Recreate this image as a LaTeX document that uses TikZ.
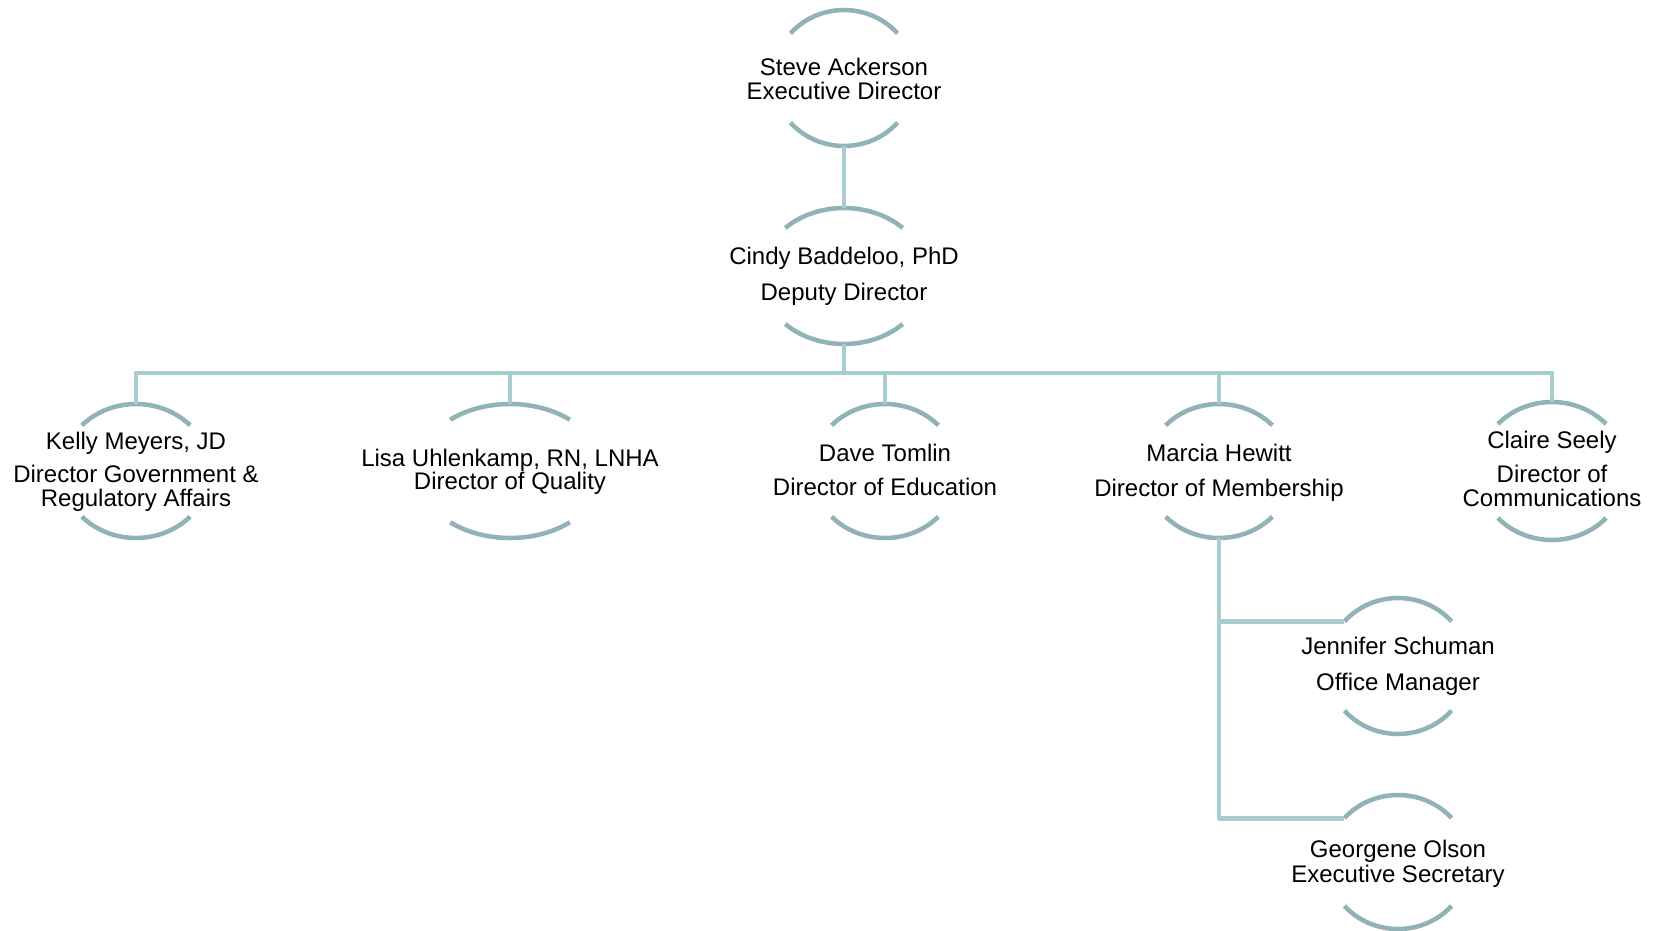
\documentclass[tikz,border=0pt]{standalone}
\usepackage{fontspec}
\setmainfont{Liberation Sans}
\usetikzlibrary{shapes.geometric}
\definecolor{arcc}{RGB}{145,178,182}
\definecolor{connc}{RGB}{168,204,207}
\tikzset{
  arcline/.style={draw=arcc, line width=3.4pt},
  conn/.style={draw=connc, line width=3.7pt, line join=round},
  person/.style={ellipse, inner sep=0pt, outer sep=0pt, draw=none},
  nametext/.style={anchor=base, align=center, inner sep=0pt,
    font=\fontsize{18pt}{18pt}\selectfont},
}
% #1 name, #2 cx, #3 cy, #4 rx, #5 ry, #6 angle, #7 last-line baseline y, #8 text
\newcommand\orgperson[8]{%
  \node[person, minimum width={1.5*#4pt}, minimum height={1.5*#5pt}] (#1) at (#2,#3) {};
  \draw[arcline] ([shift={(-#6:#4 and #5)}]#1.center) arc[start angle=-#6, end angle=-180+#6, x radius=#4, y radius=#5];
  \draw[arcline] ([shift={(#6:#4 and #5)}]#1.center) arc[start angle=#6, end angle=180-#6, x radius=#4, y radius=#5];
  \node[nametext] (#1-t) at (#2,#7) {#8};
}
\begin{document}
\begin{tikzpicture}[x=0.75pt,y=-0.75pt]
\useasboundingbox (0,0) rectangle (1659,931);
\orgperson{steve}{844}{78}{71}{68}{41}{99}{Steve Ackerson\\Executive Director}
\orgperson{cindy}{844}{276}{83}{68}{45}{300}{Cindy Baddeloo, PhD\\[9pt]Deputy Director}
\orgperson{kelly}{136}{471}{74}{67}{43}{506}{Kelly Meyers, JD\\[6.75pt]Director Government \&\\Regulatory Affairs}
\orgperson{lisa}{510}{471}{93}{67}{50}{489}{Lisa Uhlenkamp, RN, LNHA\\[-0.75pt]Director of Quality}
\orgperson{dave}{885}{471}{73}{67}{43}{495}{Dave Tomlin\\[7.5pt]Director of Education}
\orgperson{marcia}{1219}{471}{73}{67}{43}{496}{Marcia Hewitt\\[8.25pt]Director of Membership}
\orgperson{claire}{1552}{471}{74}{69}{43}{506}{Claire Seely\\[7.5pt]Director of\\Communications}
\orgperson{jennifer}{1398}{666}{71}{68}{41}{690}{Jennifer Schuman\\[9pt]Office Manager}
\orgperson{georgene}{1398}{862}{71}{67}{41}{882}{Georgene Olson\\[0.75pt]Executive Secretary}

\coordinate (bus) at (844,373);
\coordinate (jin) at ([shift={(-139:71 and 68)}]jennifer.center);
\coordinate (gin) at ([shift={(-139:71 and 67)}]georgene.center);

\draw[conn] (steve.south) -- (cindy.north);
\draw[conn] (cindy.south) -- (bus);
\draw[conn] (kelly.north) |- (bus) -| (claire.north);
\foreach \n in {lisa,dave,marcia} \draw[conn] (\n.north) -- (\n.north |- bus);
\draw[conn] (marcia.south) |- (gin);
\draw[conn] (marcia.south |- jin) -- (jin);
\end{tikzpicture}
\end{document}
